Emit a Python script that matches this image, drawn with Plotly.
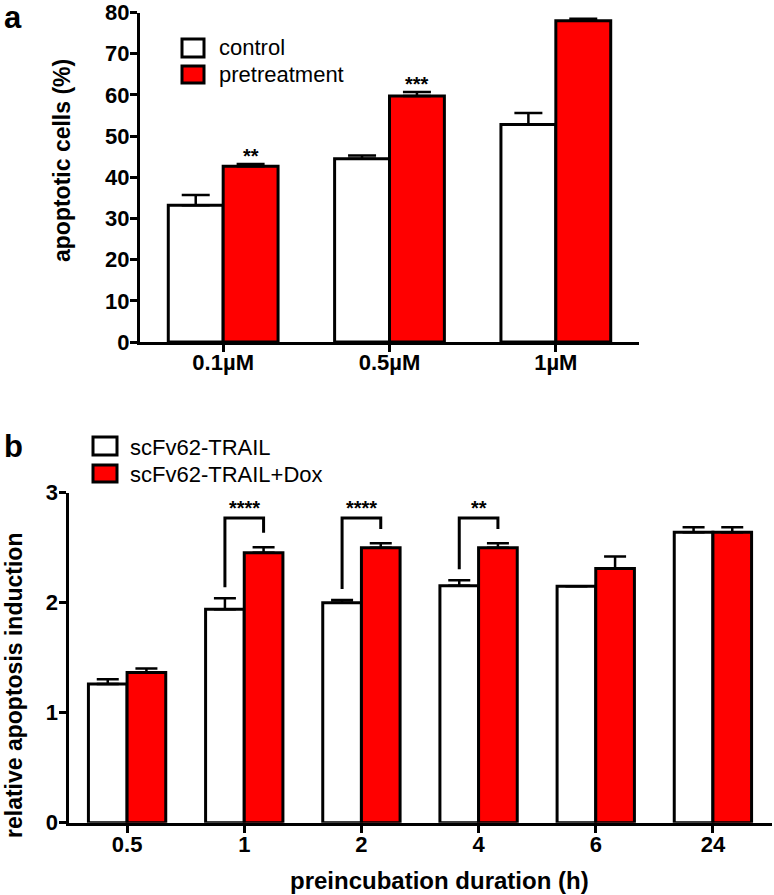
import plotly.graph_objects as go

W, H = 774, 895

# ---------------- data ----------------
# panel a
cats_a = ["0.1µM", "0.5µM", "1µM"]
control_a = [33.2, 44.5, 52.8]
control_a_err = [2.5, 0.8, 2.8]
pretreat_a = [42.7, 59.7, 78.0]
pretreat_a_err = [0.5, 1.0, 0.5]
stars_a = ["**", "***", "****"]

# panel b
cats_b = ["0.5", "1", "2", "4", "6", "24"]
trail_b = [1.26, 1.94, 2.00, 2.155, 2.15, 2.64]
trail_b_err = [0.045, 0.10, 0.025, 0.05, 0.0, 0.045]
dox_b = [1.365, 2.455, 2.50, 2.50, 2.31, 2.64]
dox_b_err = [0.037, 0.05, 0.04, 0.04, 0.11, 0.045]
bracket_idx = [1, 2, 3]
stars_b = ["****", "****", "**"]

yticks_a = [0, 10, 20, 30, 40, 50, 60, 70, 80]
yticks_b = [0, 1, 2, 3]

# ---------------- style ----------------
FONT = "Liberation Sans, Arial, Helvetica, sans-serif"
RED = "#ff0000"
BW = 0.165  # half of bar slot (bargap 0.34 -> each bar 0.33)


def px(x):
    return x / W


def py(y):
    return 1 - y / H


fig = go.Figure()

idx_a = list(range(len(cats_a)))
idx_b = list(range(len(cats_b)))

fig.add_trace(go.Bar(
    x=idx_a, y=control_a, offsetgroup="c", xaxis="x", yaxis="y",
    marker=dict(color="white", line=dict(color="black", width=3)),
    error_y=dict(type="data", array=control_a_err, arrayminus=[0] * 3, symmetric=False,
                 color="black", thickness=2.5, width=14),
    showlegend=False, hoverinfo="skip"))
fig.add_trace(go.Bar(
    x=idx_a, y=pretreat_a, offsetgroup="t", xaxis="x", yaxis="y",
    marker=dict(color=RED, line=dict(color="black", width=3)),
    error_y=dict(type="data", array=pretreat_a_err, arrayminus=[0] * 3, symmetric=False,
                 color="black", thickness=2.5, width=14),
    showlegend=False, hoverinfo="skip"))

fig.add_trace(go.Bar(
    x=idx_b, y=trail_b, offsetgroup="c", xaxis="x2", yaxis="y2",
    marker=dict(color="white", line=dict(color="black", width=3)),
    error_y=dict(type="data", array=trail_b_err, arrayminus=[0] * 6, symmetric=False,
                 color="black", thickness=2.5, width=11),
    showlegend=False, hoverinfo="skip"))
fig.add_trace(go.Bar(
    x=idx_b, y=dox_b, offsetgroup="t", xaxis="x2", yaxis="y2",
    marker=dict(color=RED, line=dict(color="black", width=3)),
    error_y=dict(type="data", array=dox_b_err, arrayminus=[0] * 6, symmetric=False,
                 color="black", thickness=2.5, width=11),
    showlegend=False, hoverinfo="skip"))

annotations = []

# significance stars panel a
for i, s in enumerate(stars_a):
    annotations.append(dict(
        x=i + BW, y=pretreat_a[i] + pretreat_a_err[i] + 3, xref="x", yref="y",
        text=f"<b>{s}</b>", showarrow=False, yshift=-4, xanchor="center", yanchor="middle",
        font=dict(family=FONT, size=20, color="black")))

# brackets panel b
BR_TOP = 2.77
for k, i in enumerate(bracket_idx):
    lo_l = trail_b[i] + trail_b_err[i] + 0.1
    lo_r = dox_b[i] + dox_b_err[i] + 0.13
    fig.add_trace(go.Scatter(
        x=[i - BW, i - BW, i + BW, i + BW], y=[lo_l, BR_TOP, BR_TOP, lo_r],
        mode="lines", line=dict(color="black", width=3), xaxis="x2", yaxis="y2",
        showlegend=False, hoverinfo="skip", cliponaxis=False))
    annotations.append(dict(
        x=i, y=BR_TOP + 0.13, xref="x2", yref="y2", text=f"<b>{stars_b[k]}</b>",
        showarrow=False, yshift=-4, xanchor="center", yanchor="middle",
        font=dict(family=FONT, size=20, color="black")))


def paper_text(x, y, text, size, angle=0, xanchor="center"):
    annotations.append(dict(x=px(x), y=py(y), xref="paper", yref="paper", text=text,
                            textangle=angle, showarrow=False, xanchor=xanchor,
                            yanchor="middle",
                            font=dict(family=FONT, size=size, color="black")))


# panel labels
paper_text(13, 17, "<b>a</b>", 31)
paper_text(14, 446, "<b>b</b>", 31)

# axis titles
paper_text(62, 160, "<b>apoptotic cells (%)</b>", 23, angle=-90)
paper_text(14, 686, "<b>relative apoptosis induction</b>", 23, angle=-90)
paper_text(439, 880, "<b>preincubation duration (h)</b>", 24)

# manual legends
shapes = []
legend_items = [
    (182, 204, 39, 57, "white", 217, 48, "control"),
    (182, 204, 66, 83, RED, 217, 74.5, "pretreatment"),
    (93, 117, 437, 455, "white", 128, 447, "scFv62-TRAIL"),
    (93, 117, 465, 482, RED, 128, 474, "scFv62-TRAIL+Dox"),
]
for x0, x1, y0, y1, col, tx, ty, label in legend_items:
    shapes.append(dict(type="rect", xref="paper", yref="paper",
                       x0=px(x0), x1=px(x1), y0=py(y1), y1=py(y0),
                       fillcolor=col, line=dict(color="black", width=3)))
    paper_text(tx, ty, label, 22, xanchor="left")

axis_common = dict(showline=True, linewidth=3, linecolor="black", ticks="outside",
                   ticklen=7, tickwidth=3, tickcolor="black", showgrid=False,
                   zeroline=False, fixedrange=True, automargin=False,
                   ticklabeloverflow="allow",
                   tickfont=dict(family=FONT, size=22, color="black", weight="bold"))

fig.update_layout(
    template="none",
    width=W, height=H, margin=dict(l=0, r=0, t=0, b=0, pad=0), autosize=False,
    paper_bgcolor="white", plot_bgcolor="white",
    barmode="group", bargap=0.34, bargroupgap=0,
    xaxis=dict(domain=[px(140), px(639)], range=[-0.5, 2.5], tickvals=idx_a,
               ticktext=cats_a, anchor="y", ticklabelstandoff=-8, **axis_common),
    yaxis=dict(domain=[py(342), py(12.5)], range=[0, 80], tickvals=yticks_a,
               anchor="x", ticklabelstandoff=-4, **axis_common),
    xaxis2=dict(domain=[px(68.5), px(771.5)], range=[-0.5, 5.5], tickvals=idx_b,
                ticktext=cats_b, anchor="y2", ticklabelstandoff=-7, **axis_common),
    yaxis2=dict(domain=[py(822.7), py(492.7)], range=[0, 3], tickvals=yticks_b,
                anchor="x2", ticklabelstandoff=-4, **axis_common),
    annotations=annotations, shapes=shapes,
)

fig.write_html(
    "out.html",
    config={"displayModeBar": False, "responsive": False},
    post_script="document.body.style.margin='0px';document.body.style.padding='0px';"
                "document.documentElement.style.overflow='hidden';document.body.style.overflow='hidden';",
)
